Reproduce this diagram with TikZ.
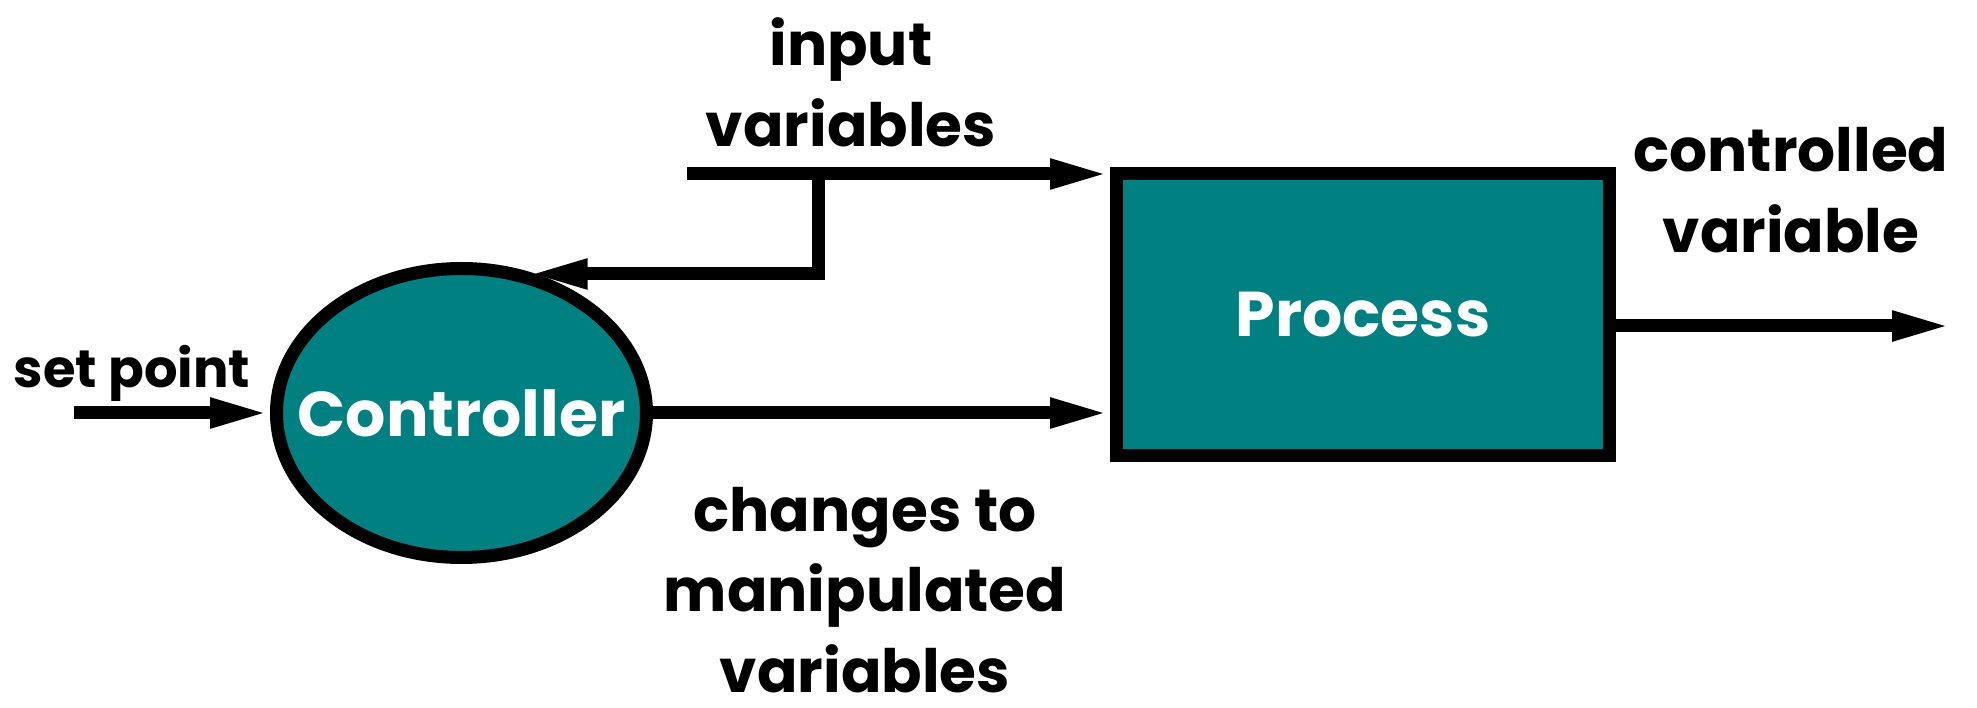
\documentclass[tikz,border=0pt]{standalone}
\usepackage{fontspec}
\setmainfont{Poppins}
\usetikzlibrary{arrows.meta,positioning,shapes.geometric}

\definecolor{tealbox}{RGB}{0,128,128}

\tikzset{
  flow/.style={line width=0.13cm, >={Triangle[length=0.6cm,width=0.27cm]}},
  block/.style={draw=black, line width=0.13cm, fill=tealbox, text=white, inner sep=0pt},
  blocktext/.style={text=white, font=\fontsize{18}{22}\selectfont\bfseries},
  lbl/.style={align=center, inner sep=0pt, font=\fontsize{17}{23}\selectfont\bfseries}
}

\begin{document}
\begin{tikzpicture}
   \useasboundingbox (0,0) rectangle (19.77,7.07);

   \node[block,ellipse,minimum width=3.70cm,minimum height=2.89cm,
         label={[blocktext]center:Controller}] (ctrl) at (4.615,2.94) {};
   \node[block,rectangle,minimum width=4.93cm,minimum height=2.82cm,blocktext] (proc) at (13.63,3.925) {Process};

   %free ends
   \coordinate (sp) at (0.74,2.94);
   \coordinate (inl) at (6.87,5.33);
   \coordinate (jn) at (8.18,5.33);
   \coordinate (outend) at (19.52,3.81);

   %labels
   \node[lbl,font=\fontsize{15}{19}\selectfont\bfseries] (setlbl) at (1.32,3.34) {set point};
   \node[lbl] (inlbl) at (8.51,6.25) {input\\variables};
   \node[lbl] (outlbl) at (17.91,5.17) {controlled\\variable};
   \node[lbl] (manlbl) at (8.65,1.17) {changes to\\manipulated\\variables};

   \draw[flow,->] (sp) -- (ctrl.west);
   \draw[flow,->] (ctrl.east) -- (proc.west |- ctrl.east);
   \draw[flow,->] (inl) -- (inl -| proc.west);
   \draw[flow,->] (jn) -- ++(0,-1.00) coordinate (jb) -- (jb -| ctrl.65);
   \draw[flow,->] (proc.east |- outend) -- (outend);
\end{tikzpicture}
\end{document}
